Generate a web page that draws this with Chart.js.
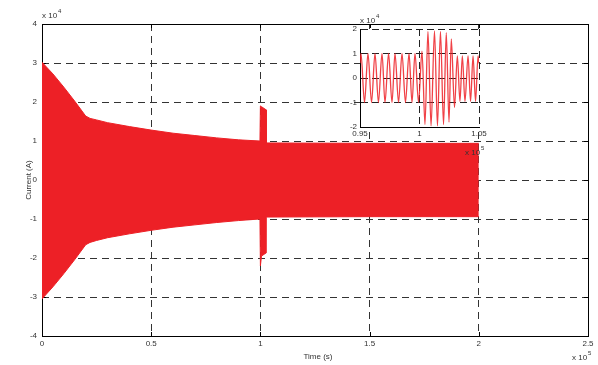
<!DOCTYPE html>
<html>
<head>
<meta charset="utf-8">
<script src="https://cdn.jsdelivr.net/npm/chart.js@4.4.0/dist/chart.umd.min.js"></script>
<style>
html, body { margin: 0; padding: 0; background: #fff; }
#wrap { position: relative; width: 598px; height: 365px; }
#main { position: absolute; left: 0; top: 0; }
#inset { position: absolute; left: 330px; top: 10px; }
</style>
</head>
<body>
<div id="wrap">
  <canvas id="main" width="598" height="365"></canvas>
  <canvas id="inset" width="165" height="150"></canvas>
</div>
<script>
// envelope of the current (time in x10^5, current in x10^4)
const envT     = [0, 0.05, 0.1, 0.15, 0.2, 0.22, 0.25, 0.3, 0.4, 0.5, 0.6, 0.7, 0.8, 0.9, 0.998, 1.0, 1.005, 1.026, 1.027, 1.5, 2.0];
const envUpper = [3.02, 2.72, 2.38, 2.02, 1.64, 1.58, 1.54, 1.47, 1.37, 1.28, 1.2, 1.14, 1.08, 1.03, 1.0, 1.9, 1.88, 1.8, 0.95, 0.94, 0.94];
const envLower = [-3.05, -2.74, -2.4, -2.04, -1.66, -1.6, -1.55, -1.48, -1.38, -1.29, -1.21, -1.15, -1.09, -1.04, -1.0, -2.2, -1.95, -1.87, -0.95, -0.94, -0.94];

// zoomed view: peaks and troughs around the fault
const zoomT = [0.95, 0.9508, 0.9538, 0.9567, 0.9597, 0.9626, 0.9655, 0.9685, 0.971, 0.974, 0.9769, 0.9794, 0.9824,
               0.9853, 0.9882, 0.9912, 0.9937, 0.9962, 0.9992, 1.0021, 1.0046, 1.0071, 1.0097, 1.0126, 1.0151,
               1.0176, 1.0202, 1.0225, 1.0248, 1.0267, 1.0294, 1.0318, 1.034, 1.036, 1.0382, 1.0408, 1.0429,
               1.045, 1.0471, 1.0492, 1.05];
const zoomI = [0.6, 1.0, -1.0, 1.0, -1.0, 1.0, -1.0, 1.0, -1.0, 1.0, -1.0, 1.0, -1.0,
               1.0, -1.0, 1.0, -1.0, 1.0, -1.0, 1.1, -1.9, 1.9, -1.95, 1.92, -1.95,
               1.9, -1.9, 1.85, -1.8, 1.6, -1.2, 0.9, -0.95, 0.9, -0.95, 0.9, -0.95,
               0.9, -0.95, 0.9, 0.6];

const xTicks = ['0', '0.5', '1', '1.5', '2', '2.5'];
const yTicks = ['4', '3', '2', '1', '0', '-1', '-2', '-3', '-4'];

const RED = 'rgb(237,32,38)';
const FONT = "'Liberation Sans Narrow', 'Liberation Sans', Arial, sans-serif";

function pts(t, v) { return t.map((x, i) => ({ x: x, y: v[i] })); }

function sup(ctx, x, y, base, exp) {
  ctx.textAlign = 'left';
  ctx.textBaseline = 'middle';
  ctx.font = '8px ' + FONT;
  ctx.fillText(base, x, y);
  const w = ctx.measureText(base).width;
  ctx.font = '6px ' + FONT;
  ctx.fillText(exp, x + w + 1, y - 5);
}

const mainDecor = {
  id: 'mainDecor',
  beforeDatasetsDraw(chart) {
    const { ctx, chartArea: a, scales } = chart;
    ctx.save();
    ctx.strokeStyle = '#000';
    ctx.lineWidth = 1;
    ctx.strokeRect(a.left + 0.5, a.top + 0.5, a.right - a.left, a.bottom - a.top);
    ctx.beginPath();
    scales.x.ticks.forEach(t => {
      const p = Math.round(scales.x.getPixelForValue(t.value)) + 0.5;
      ctx.moveTo(p, a.bottom); ctx.lineTo(p, a.bottom - 4);
      ctx.moveTo(p, a.top); ctx.lineTo(p, a.top + 4);
    });
    scales.y.ticks.forEach(t => {
      const p = Math.round(scales.y.getPixelForValue(t.value)) + 0.5;
      ctx.moveTo(a.left, p); ctx.lineTo(a.left + 4, p);
      ctx.moveTo(a.right, p); ctx.lineTo(a.right - 4, p);
    });
    ctx.stroke();
    ctx.restore();
  },
  afterDraw(chart) {
    const ctx = chart.ctx;
    ctx.save();
    ctx.fillStyle = '#333';
    sup(ctx, 42, 16, 'x 10', '4');
    sup(ctx, 572, 358, 'x 10', '5');
    ctx.font = '8px ' + FONT;
    ctx.textAlign = 'center';
    ctx.textBaseline = 'middle';
    ctx.fillText('Time (s)', 318, 357);
    ctx.translate(29, 180);
    ctx.rotate(-Math.PI / 2);
    ctx.fillText('Current (A)', 0, 0);
    ctx.restore();
  }
};

new Chart(document.getElementById('main'), {
  type: 'line',
  data: {
    datasets: [
      { data: pts(envT, envUpper), borderColor: RED, backgroundColor: RED, borderWidth: 1, pointRadius: 0, fill: '+1', tension: 0 },
      { data: pts(envT, envLower), borderColor: RED, backgroundColor: RED, borderWidth: 1, pointRadius: 0, fill: false, tension: 0 }
    ]
  },
  options: {
    responsive: false,
    animation: false,
    layout: { padding: { left: 0, top: 24, right: 10, bottom: 0 } },
    plugins: { legend: { display: false }, tooltip: { enabled: false } },
    scales: {
      x: {
        type: 'linear', min: 0, max: 2.5,
        afterFit: s => { s.height = 29; },
        afterBuildTicks: s => { s.ticks = xTicks.map(v => ({ value: parseFloat(v) })); },
        ticks: { callback: v => xTicks.find(t => parseFloat(t) === v), color: '#333', font: { family: FONT, size: 8 }, padding: 3, maxRotation: 0 },
        grid: { color: '#333', lineWidth: 1, drawTicks: false },
        border: { display: false, dash: [7, 5] }
      },
      y: {
        type: 'linear', min: -4, max: 4,
        afterFit: s => { s.width = 42; },
        afterBuildTicks: s => { s.ticks = yTicks.map(v => ({ value: parseFloat(v) })); },
        ticks: { callback: v => yTicks.find(t => parseFloat(t) === v), color: '#333', font: { family: FONT, size: 8 }, padding: 5 },
        grid: { color: '#333', lineWidth: 1, drawTicks: false },
        border: { display: false, dash: [7, 5] }
      }
    }
  },
  plugins: [mainDecor]
});

const insetXTicks = ['0.95', '1', '1.05'];
const insetYTicks = ['2', '1', '0', '-1', '-2'];

const insetDecor = {
  id: 'insetDecor',
  beforeDraw(chart) {
    const { ctx, chartArea: a } = chart;
    ctx.save();
    ctx.fillStyle = '#fff';
    ctx.fillRect(a.left, a.top, a.right - a.left, a.bottom - a.top);
    ctx.restore();
  },
  afterDraw(chart) {
    const ctx = chart.ctx;
    ctx.save();
    ctx.fillStyle = '#333';
    sup(ctx, 30, 11, 'x 10', '4');
    sup(ctx, 135, 143, 'x 10', '5');
    ctx.restore();
  }
};

new Chart(document.getElementById('inset'), {
  type: 'line',
  data: {
    datasets: [
      { data: pts(zoomT, zoomI), borderColor: 'rgba(237,32,38,0.85)', borderWidth: 1.3, pointRadius: 0, fill: false, cubicInterpolationMode: 'monotone' }
    ]
  },
  options: {
    responsive: false,
    animation: false,
    layout: { padding: { left: 0, top: 19, right: 16, bottom: 0 } },
    plugins: { legend: { display: false }, tooltip: { enabled: false } },
    scales: {
      x: {
        type: 'linear', min: 0.95, max: 1.05,
        afterFit: s => { s.height = 33; },
        afterBuildTicks: s => { s.ticks = insetXTicks.map(v => ({ value: parseFloat(v) })); },
        ticks: { callback: (v, i) => insetXTicks[i], color: '#333', font: { family: FONT, size: 8 }, padding: 2, maxRotation: 0 },
        grid: { color: '#222', lineWidth: 1, drawTicks: false },
        border: { display: true, color: '#000', width: 1, dash: [7, 4] }
      },
      y: {
        type: 'linear', min: -2, max: 2,
        afterFit: s => { s.width = 30; },
        afterBuildTicks: s => { s.ticks = insetYTicks.map(v => ({ value: parseFloat(v) })); },
        ticks: { callback: (v, i) => insetYTicks[i], color: '#333', font: { family: FONT, size: 8 }, padding: 3 },
        grid: { color: '#222', lineWidth: 1, drawTicks: false },
        border: { display: true, color: '#000', width: 1, dash: [7, 4] }
      }
    }
  },
  plugins: [insetDecor]
});
</script>
</body>
</html>
